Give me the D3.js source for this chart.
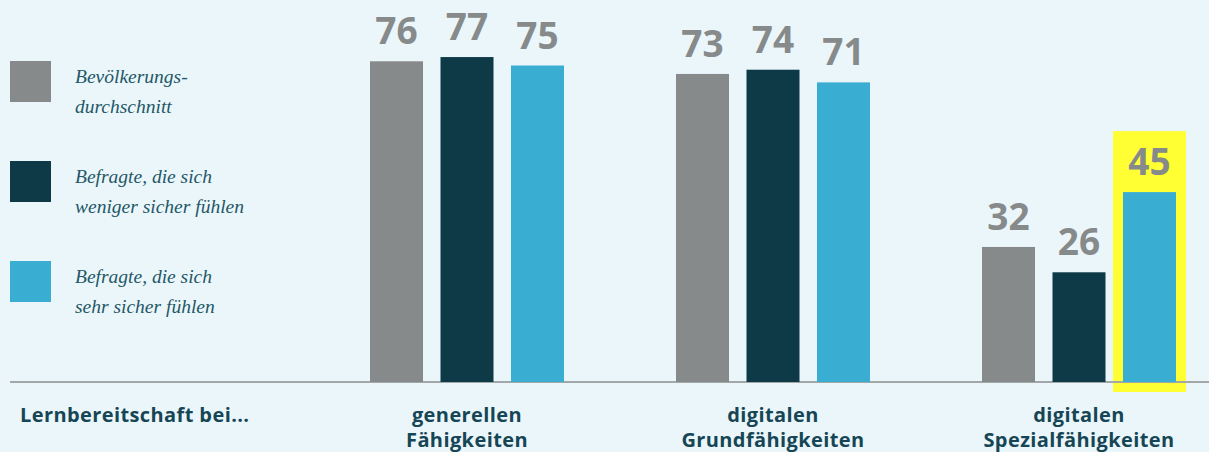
<!DOCTYPE html>
<html>
<head>
<meta charset="utf-8">
<script src="https://cdn.jsdelivr.net/npm/d3@7"></script>
<style>
  body { margin: 0; background: #ebf6fb; }
  svg { display: block; }
</style>
</head>
<body>
<div id="idChart"></div>
<script>
// data
var categories = ["generellen Fähigkeiten", "digitalen Grundfähigkeiten", "digitalen Spezialfähigkeiten"];
var categoryLines = [["generellen", "Fähigkeiten"], ["digitalen", "Grundfähigkeiten"], ["digitalen", "Spezialfähigkeiten"]];
var seriesNames = ["Bevölkerungsdurchschnitt", "Befragte, die sich weniger sicher fühlen", "Befragte, die sich sehr sicher fühlen"];
var legendLines = [["Bevölkerungs-", "durchschnitt"], ["Befragte, die sich", "weniger sicher fühlen"], ["Befragte, die sich", "sehr sicher fühlen"]];
var valuesAverage = [76, 73, 32];
var valuesLessSure = [77, 74, 26];
var valuesVerySure = [75, 71, 45];
var highlight = {category: "digitalen Spezialfähigkeiten", series: "Befragte, die sich sehr sicher fühlen"};
var axisTitle = "Lernbereitschaft bei...";

var colors = ["#878a8a", "#0e3a47", "#3aadd3"];
var allValues = [valuesAverage, valuesLessSure, valuesVerySure];

var iWidth = 1209, iHeight = 452;
var iBase = 382;

var svg = d3.select("#idChart").append("svg")
    .attr("width", iWidth).attr("height", iHeight);

svg.append("rect").attr("width", iWidth).attr("height", iHeight).attr("fill", "#ebf6fb");

var x0 = d3.scalePoint()
    .domain(categories)
    .range([467, 1079]);

var x1 = d3.scaleBand()
    .domain(seriesNames)
    .range([-97, 97])
    .paddingInner(0.248)
    .paddingOuter(0);

var y = d3.scaleLinear()
    .domain([0, 100])
    .range([iBase, iBase - 422]);

var rows = [];
categories.forEach(function(c, i) {
    seriesNames.forEach(function(s, j) {
        rows.push({cat: c, ser: s, idx: j, value: allValues[j][i]});
    });
});

// highlight box
var hl = rows.filter(function(d) { return d.cat == highlight.category && d.ser == highlight.series; })[0];
svg.append("rect")
    .attr("x", x0(hl.cat) + x1(hl.ser) - 10)
    .attr("y", y(hl.value) - 61)
    .attr("width", x1.bandwidth() + 20)
    .attr("height", iBase - y(hl.value) + 71)
    .attr("fill", "#ffff33");

// axis line
svg.append("line")
    .attr("x1", 10).attr("x2", iWidth)
    .attr("y1", iBase).attr("y2", iBase)
    .attr("stroke", "#a3a7a7").attr("stroke-width", 2);

svg.selectAll("rect.bar")
    .data(rows)
    .enter().append("rect")
    .attr("class", "bar")
    .attr("x", function(d) { return x0(d.cat) + x1(d.ser); })
    .attr("y", function(d) { return y(d.value); })
    .attr("width", x1.bandwidth())
    .attr("height", function(d) { return iBase - y(d.value); })
    .attr("fill", function(d) { return colors[d.idx]; });

svg.selectAll("text.val")
    .data(rows)
    .enter().append("text")
    .attr("class", "val")
    .attr("x", function(d) { return x0(d.cat) + x1(d.ser) + x1.bandwidth() / 2; })
    .attr("y", function(d) { return y(d.value) - 17; })
    .attr("text-anchor", "middle")
    .style("font-family", "'Open Sans', sans-serif")
    .style("font-weight", "bold")
    .style("font-size", "37px")
    .style("fill", "#878a8a")
    .text(function(d) { return d.value; });

// category labels
categories.forEach(function(c, i) {
    var t = svg.append("text")
        .attr("text-anchor", "middle")
        .style("font-family", "'Open Sans', sans-serif")
        .style("font-weight", "bold")
        .style("font-size", "20px")
        .style("letter-spacing", "0.4px")
        .style("fill", "#164655");
    categoryLines[i].forEach(function(line, k) {
        t.append("tspan").attr("x", x0(c)).attr("y", 422 + k * 25).text(line);
    });
});

svg.append("text")
    .attr("x", 20).attr("y", 422)
    .style("font-family", "'Open Sans', sans-serif")
    .style("font-weight", "bold")
    .style("font-size", "20px")
    .style("letter-spacing", "0.4px")
    .style("fill", "#164655")
    .text(axisTitle);

// legend
seriesNames.forEach(function(s, j) {
    var g = svg.append("g").attr("transform", "translate(10," + (61 + j * 100) + ")");
    g.append("rect").attr("width", 41).attr("height", 41).attr("fill", colors[j]);
    var t = g.append("text")
        .style("font-family", "'Liberation Serif', serif")
        .style("font-style", "italic")
        .style("font-size", "19.5px")
        .style("fill", "#245866");
    legendLines[j].forEach(function(line, k) {
        t.append("tspan").attr("x", 65).attr("y", 22 + k * 30).text(line);
    });
});
</script>
</body>
</html>
